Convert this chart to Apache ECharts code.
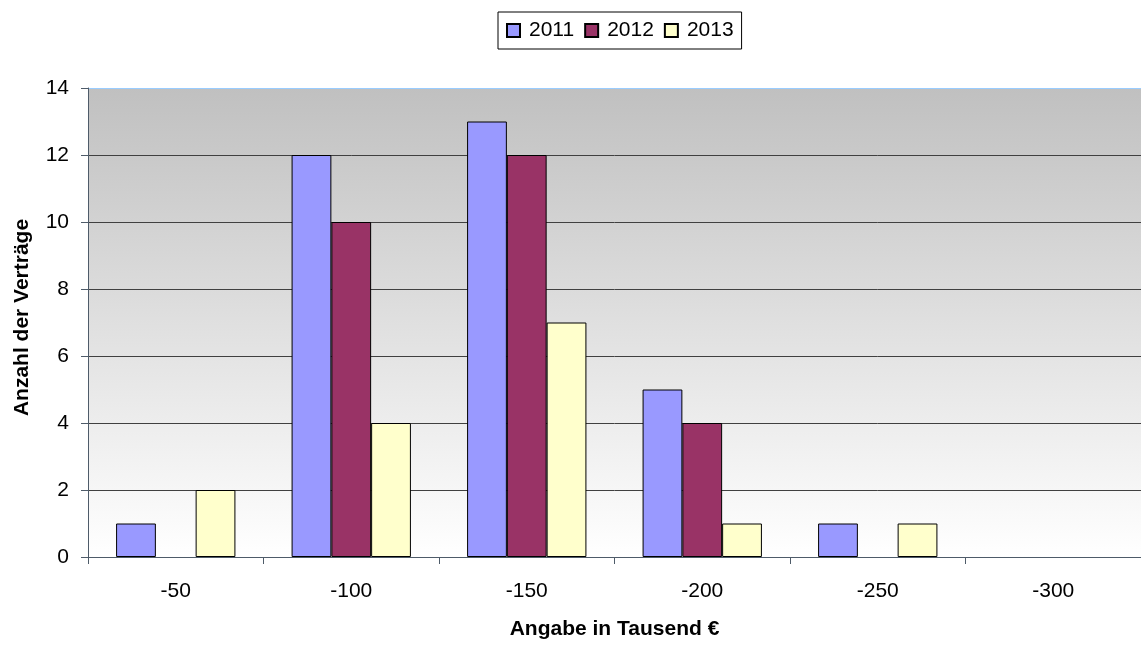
<!DOCTYPE html>
<html>
<head>
<meta charset="utf-8">
<script src="https://cdn.jsdelivr.net/npm/echarts@6/dist/echarts.min.js"></script>
<style>
html,body{margin:0;padding:0;background:#fff;overflow:hidden;}
#chart{width:1141px;height:645px;}
</style>
</head>
<body>
<div id="chart"></div>
<script>
var categories = ['-50', '-100', '-150', '-200', '-250', '-300'];
var seriesNames = ['2011', '2012', '2013'];
var values2011 = [1, 12, 13, 5, 1, 0];
var values2012 = [0, 10, 12, 4, 0, 0];
var values2013 = [2, 4, 7, 1, 1, 0];
var seriesColors = ['#9999ff', '#993366', '#ffffcc'];
var yTicks = [0, 2, 4, 6, 8, 10, 12, 14];

var font = 'Liberation Sans, Arial, sans-serif';
var chart = echarts.init(document.getElementById('chart'), null, {renderer: 'canvas'});
var allValues = [values2011, values2012, values2013];

var splitColors = yTicks.map(function (t, i) { return i === yTicks.length - 1 ? '#99ccff' : '#404040'; });

chart.setOption({
  animation: false,
  backgroundColor: '#ffffff',
  textStyle: {fontFamily: font, color: '#000'},
  legend: {
    data: seriesNames,
    left: 498,
    top: 12,
    padding: [8, 8],
    itemWidth: 13,
    itemHeight: 13,
    itemGap: 10,
    icon: 'rect',
    borderColor: '#000',
    borderWidth: 1,
    textStyle: {fontFamily: font, fontSize: 21, color: '#000', padding: [0, 0, 0, 4]}
  },
  grid: {
    left: 88,
    top: 88,
    width: 1066,
    height: 472,
    show: true,
    borderWidth: 0,
    backgroundColor: new echarts.graphic.LinearGradient(0, 0, 0, 1, [
      {offset: 0, color: '#c0c0c0'},
      {offset: 1, color: '#ffffff'}
    ])
  },
  xAxis: {
    type: 'category',
    data: categories,
    name: 'Angabe in Tausend €',
    nameLocation: 'middle',
    nameGap: 62,
    nameTextStyle: {fontFamily: font, fontSize: 21, fontWeight: 'bold', color: '#000'},
    axisLine: {lineStyle: {color: '#4e5b69', width: 1}},
    axisTick: {show: true, length: 7, lineStyle: {color: '#4e5b69'}},
    axisLabel: {fontFamily: font, fontSize: 21, color: '#000', margin: 24}
  },
  yAxis: {
    type: 'value',
    min: 0,
    max: 14,
    interval: 2,
    name: 'Anzahl der Verträge',
    nameLocation: 'middle',
    nameGap: 55,
    nameTextStyle: {fontFamily: font, fontSize: 21, fontWeight: 'bold', color: '#000', padding: [0, 0, 0, 10]},
    axisLine: {show: true, lineStyle: {color: '#4e5b69', width: 1}},
    axisTick: {show: true, length: 7, lineStyle: {color: '#4e5b69'}},
    axisLabel: {fontFamily: font, fontSize: 21, color: '#000', margin: 19},
    splitLine: {show: true, lineStyle: {color: splitColors, width: 1}}
  },
  series: seriesNames.map(function (name, i) {
    return {
      name: name,
      type: 'bar',
      data: allValues[i].map(function (v) { return v === 0 ? '-' : v; }),
      barGap: '0%',
      barCategoryGap: '32%',
      itemStyle: {color: seriesColors[i], borderColor: '#000', borderWidth: 1}
    };
  })
});
</script>
</body>
</html>
